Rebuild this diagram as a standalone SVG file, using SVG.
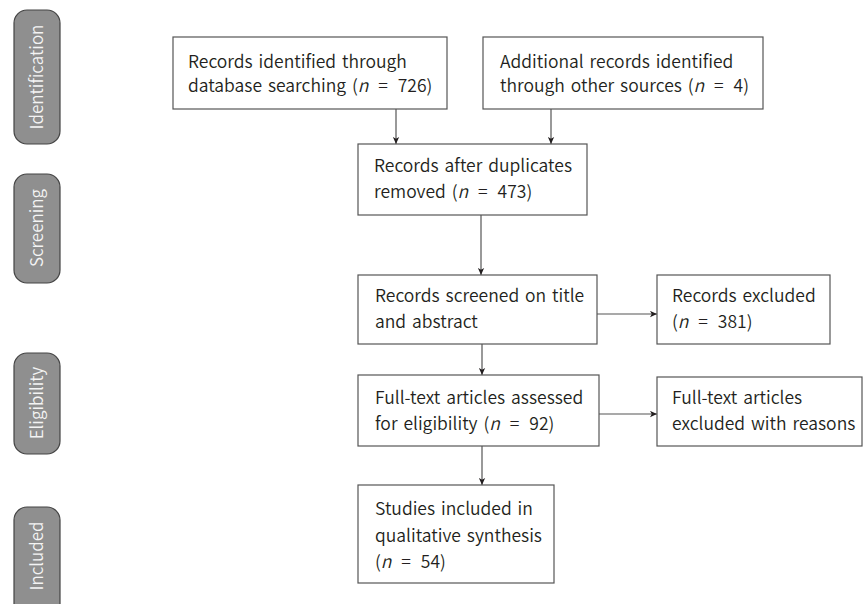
<svg xmlns="http://www.w3.org/2000/svg" width="863" height="604" viewBox="0 0 863 604">
<style>
.box{fill:#fff;stroke:#555;stroke-width:1.2}
.pill{fill:#8f8f8f;stroke:#444;stroke-width:1.2}
.t{font-family:"Noto Sans CJK JP","Noto Sans",sans-serif;font-size:17.5px;font-weight:350;word-spacing:2px;fill:#231f20}
.n{word-spacing:6px}
.i{font-style:italic}
.p{font-family:"Noto Sans CJK JP","Noto Sans",sans-serif;font-size:17px;font-weight:350;fill:#f4f4f4;text-anchor:middle}
.c{stroke:#555;stroke-width:1.2;fill:none;marker-end:url(#ah)}
</style>
<defs>
<marker id="ah" viewBox="0 0 10 10" refX="10" refY="5" markerWidth="7" markerHeight="7" markerUnits="userSpaceOnUse" orient="auto">
<path d="M0,0.5 L10,5 L0,9.5 L2.5,5 Z" fill="#231f20"/>
</marker>
</defs>
<g id="phase-identification"><rect class="pill" x="14" y="10" width="46" height="134" rx="13"/><text class="p" transform="translate(43,77) rotate(-90)">Identification</text></g>
<g id="phase-screening"><rect class="pill" x="14" y="174" width="46" height="109" rx="13"/><text class="p" transform="translate(43,228) rotate(-90)">Screening</text></g>
<g id="phase-eligibility"><rect class="pill" x="14" y="353" width="46" height="101" rx="13"/><text class="p" transform="translate(43,403) rotate(-90)">Eligibility</text></g>
<g id="phase-included"><rect class="pill" x="14" y="507" width="46" height="110" rx="13"/><text class="p" transform="translate(43,556) rotate(-90)">Included</text></g>

<g id="connectors">
<line class="c" x1="396" y1="109" x2="396" y2="144"/>
<line class="c" x1="551" y1="109" x2="551" y2="144"/>
<line class="c" x1="481" y1="215" x2="481" y2="275"/>
<line class="c" x1="597" y1="314" x2="657" y2="314"/>
<line class="c" x1="482" y1="344" x2="482" y2="375"/>
<line class="c" x1="599" y1="414" x2="657" y2="414"/>
<line class="c" x1="482" y1="446" x2="482" y2="485"/>
</g>

<g id="n1"><rect class="box" x="173" y="37" width="274" height="72"/>
<text class="t" x="188" y="68">Records identified through</text>
<text class="t" x="188" y="92">database searching <tspan class="n">(<tspan class="i">n</tspan> = 726)</tspan></text></g>
<g id="n2"><rect class="box" x="483" y="37" width="280" height="72"/>
<text class="t" x="500" y="68">Additional records identified</text>
<text class="t" x="500" y="92">through other sources <tspan class="n">(<tspan class="i">n</tspan> = 4)</tspan></text></g>
<g id="n3"><rect class="box" x="358" y="144" width="229" height="71"/>
<text class="t" x="374" y="172">Records after duplicates</text>
<text class="t" x="374" y="198">removed <tspan class="n">(<tspan class="i">n</tspan> = 473)</tspan></text></g>
<g id="n4"><rect class="box" x="358" y="275" width="239" height="69"/>
<text class="t" x="375" y="302">Records screened on title</text>
<text class="t" x="375" y="328">and abstract</text></g>
<g id="n5"><rect class="box" x="657" y="275" width="173" height="69"/>
<text class="t" x="672" y="302">Records excluded</text>
<text class="t" x="672" y="328"><tspan class="n">(<tspan class="i">n</tspan> = 381)</tspan></text></g>
<g id="n6"><rect class="box" x="358" y="375" width="241" height="71"/>
<text class="t" x="375" y="404">Full-text articles assessed</text>
<text class="t" x="375" y="430">for eligibility <tspan class="n">(<tspan class="i">n</tspan> = 92)</tspan></text></g>
<g id="n7"><rect class="box" x="657" y="377" width="205" height="69"/>
<text class="t" x="672" y="404">Full-text articles</text>
<text class="t" x="672" y="430">excluded with reasons</text></g>
<g id="n8"><rect class="box" x="358" y="485" width="196" height="98"/>
<text class="t" x="375" y="515">Studies included in</text>
<text class="t" x="375" y="542">qualitative synthesis</text>
<text class="t" x="375" y="568"><tspan class="n">(<tspan class="i">n</tspan> = 54)</tspan></text></g>
</svg>
